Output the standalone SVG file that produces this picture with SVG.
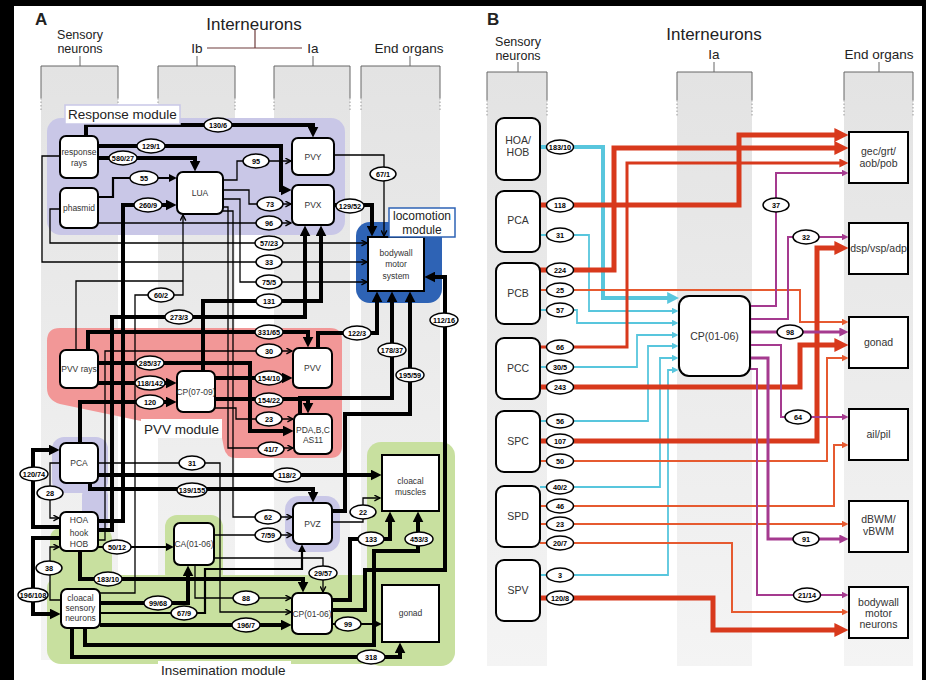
<svg xmlns="http://www.w3.org/2000/svg" width="926" height="680" viewBox="0 0 926 680">
<style>
.tk{fill:none;stroke:#000;stroke-width:4}
.md{fill:none;stroke:#000;stroke-width:2.2}
.tn{fill:none;stroke:#000;stroke-width:1.3}
.nd{fill:#fff;stroke:#000;stroke-width:2}
text{font-family:"Liberation Sans",Arial,Helvetica,sans-serif}
.nt{font-size:8.5px;fill:#333;text-anchor:middle}
.nb{font-size:10.5px;fill:#333;text-anchor:middle}
.lb ellipse{fill:#fff;stroke:#000;stroke-width:1.5}
.lb text{font-size:7.3px;font-weight:bold;text-anchor:middle;fill:#000}
.hd{font-size:13.5px;fill:#222;text-anchor:middle}
.hs{font-size:12.5px;fill:#222;text-anchor:middle}
.ml{font-size:13.5px;fill:#222}
.br{fill:none;stroke:#666;stroke-width:1}
.dt{fill:none;stroke:#999;stroke-width:1;stroke-dasharray:1.5 2}
.cy{fill:none;stroke:#58c6dd}
.rd{fill:none;stroke:#d8391c}
.og{fill:none;stroke:#e65a30;stroke-width:2}
.pu{fill:none;stroke:#a53a8f}
.col{fill:url(#colg)}
.lav{fill:#c9c7e7}
.grn{fill:#c8e09f}
</style>
<defs>
<linearGradient id="colg" x1="0" y1="0" x2="0" y2="1"><stop offset="0" stop-color="#e3e3e3"/><stop offset="1" stop-color="#f4f4f4"/></linearGradient>
<marker id="aK" viewBox="0 0 10 10" refX="4" refY="5" markerWidth="11" markerHeight="11" markerUnits="userSpaceOnUse" orient="auto"><path d="M0,0 L10,5 L0,10 z" fill="#000"/></marker>
<marker id="aM" viewBox="0 0 10 10" refX="4" refY="5" markerWidth="8" markerHeight="8" markerUnits="userSpaceOnUse" orient="auto"><path d="M0,0 L10,5 L0,10 z" fill="#000"/></marker>
<marker id="aT" viewBox="0 0 10 10" refX="9" refY="5" markerWidth="7" markerHeight="7" markerUnits="userSpaceOnUse" orient="auto"><path d="M1,1 L9,5 L1,9" fill="none" stroke="#000" stroke-width="2"/></marker>
<marker id="rK" viewBox="0 0 10 10" refX="4" refY="5" markerWidth="14" markerHeight="14" markerUnits="userSpaceOnUse" orient="auto"><path d="M0,0 L10,5 L0,10 z" fill="#d8391c"/></marker>
<marker id="rS" viewBox="0 0 10 10" refX="4" refY="5" markerWidth="9" markerHeight="9" markerUnits="userSpaceOnUse" orient="auto"><path d="M0,0 L10,5 L0,10 z" fill="#d8391c"/></marker>
<marker id="oS" viewBox="0 0 10 10" refX="5" refY="5" markerWidth="7" markerHeight="7" markerUnits="userSpaceOnUse" orient="auto"><path d="M0,0 L10,5 L0,10 z" fill="#e65a30"/></marker>
<marker id="cK" viewBox="0 0 10 10" refX="4" refY="5" markerWidth="12" markerHeight="12" markerUnits="userSpaceOnUse" orient="auto"><path d="M0,0 L10,5 L0,10 z" fill="#58c6dd"/></marker>
<marker id="cS" viewBox="0 0 10 10" refX="5" refY="5" markerWidth="7" markerHeight="7" markerUnits="userSpaceOnUse" orient="auto"><path d="M0,0 L10,5 L0,10 z" fill="#58c6dd"/></marker>
<marker id="pS" viewBox="0 0 10 10" refX="5" refY="5" markerWidth="7" markerHeight="7" markerUnits="userSpaceOnUse" orient="auto"><path d="M0,0 L10,5 L0,10 z" fill="#a53a8f"/></marker>
<marker id="pM" viewBox="0 0 10 10" refX="4" refY="5" markerWidth="9" markerHeight="9" markerUnits="userSpaceOnUse" orient="auto"><path d="M0,0 L10,5 L0,10 z" fill="#a53a8f"/></marker>
</defs>

<rect width="926" height="680" fill="#000"/>
<rect x="14" y="6" width="908" height="674" fill="#fff"/>

<!-- Panel A background -->
<g id="A-background">
<rect class="col" x="41" y="66" width="77" height="594"/>
<rect class="col" x="158" y="66" width="77" height="594"/>
<rect class="col" x="274" y="66" width="76" height="594"/>
<rect class="col" x="361" y="66" width="79" height="594"/>
<path class="br" d="M41,98 V66 H118 V98 M158,98 V66 H235 V98 M274,98 V66 H350 V98 M361,98 V66 H440 V98 M80,56 V66 M197,56 V66 M313,56 V66 M410,56 V66"/>
<path class="dt" d="M41,98 V112 M118,98 V112 M158,98 V112 M235,98 V112 M274,98 V112 M350,98 V112 M361,98 V112 M440,98 V112"/>
<path d="M207,48 H302 M255,30 V48" fill="none" stroke="#6e3c3c" stroke-width="1.2"/>
<text x="35" y="25" font-size="17" font-weight="bold" fill="#222">A</text>
<text class="hs" x="80" y="39">Sensory</text>
<text class="hs" x="80" y="53">neurons</text>
<text x="254" y="30" font-size="17" fill="#222" text-anchor="middle">Interneurons</text>
<text class="hd" x="197" y="53">Ib</text>
<text class="hd" x="313" y="53">Ia</text>
<text class="hd" x="409" y="53">End organs</text>
</g>

<g id="modules-A">
<rect class="lav" x="47" y="118" width="298" height="117" rx="14"/>
<path fill="#f29797" d="M60,328 H330 Q342,328 342,340 V446 Q342,458 330,458 H236 Q226,458 224,448 L222,438 L60,404 Q47,400 47,388 V341 Q47,328 60,328 Z"/>
<rect x="356" y="222" width="86" height="81" rx="14" fill="#2e63b5"/>
<rect class="grn" x="367" y="442" width="88" height="224" rx="14"/>
<rect class="grn" x="47" y="575" width="408" height="89" rx="14"/>
<rect class="grn" x="165" y="515" width="58" height="70" rx="12"/>
<rect class="grn" x="50" y="528" width="62" height="60" rx="10"/>
<rect class="lav" x="52" y="437" width="56" height="56" rx="12"/>
<rect class="lav" x="82" y="485" width="26" height="48" rx="10"/>
<rect class="lav" x="285" y="496" width="55" height="56" rx="14"/>
</g>

<!-- Panel B background -->
<g id="B-background">
<rect class="col" x="487" y="72" width="60" height="594"/>
<rect class="col" x="677" y="72" width="75" height="594"/>
<rect class="col" x="844" y="72" width="69" height="594"/>
<path class="br" d="M487,100 V72 H547 V100 M677,100 V72 H752 V100 M844,100 V72 H913 V100 M518,62 V72 M714,62 V72 M879,62 V72"/>
<path class="dt" d="M487,100 V116 M547,100 V116 M677,100 V116 M752,100 V116 M844,100 V116 M913,100 V116"/>
<text x="487" y="25" font-size="17" font-weight="bold" fill="#222">B</text>
<text class="hs" x="518" y="46">Sensory</text>
<text class="hs" x="518" y="60">neurons</text>
<text x="714" y="40" font-size="17" fill="#222" text-anchor="middle">Interneurons</text>
<text class="hd" x="714" y="59">Ia</text>
<text class="hd" x="879" y="59">End organs</text>
</g>

<g id="connectors">
<!-- panel A -->
<path class="tk" marker-end="url(#aK)" d="M86,136 V125 H313 V131"/>
<path class="tk" marker-end="url(#aK)" d="M98,146 H281 V190 H285"/>
<path class="tk" marker-end="url(#aK)" d="M98,158 H195 V165"/>
<path class="md" marker-end="url(#aM)" d="M98,197 H113 V178 H172"/>
<path class="tk" marker-end="url(#aK)" d="M98,521 H123 V205 H170"/>
<path class="tn" marker-end="url(#aT)" d="M223,180 H237 V161 H291"/>
<path class="tn" marker-end="url(#aT)" d="M223,190 H249 V204 H291"/>
<path class="tn" marker-end="url(#aT)" d="M98,223 H291"/>
<path class="tn" marker-end="url(#aT)" d="M334,155 H384 V236"/>
<path class="tk" marker-end="url(#aK)" d="M334,205 H372 V230"/>
<path class="tn" marker-end="url(#aT)" d="M60,209 H50 V243 H367"/>
<path class="tn" marker-end="url(#aT)" d="M60,156 H42 V262 H367"/>
<path class="tn" marker-end="url(#aT)" d="M223,199 H240 V282 H367"/>
<path class="tk" marker-end="url(#aK)" d="M203,371 V301 H321 V232"/>
<path class="tk" marker-end="url(#aK)" d="M98,530 H112 V317 H305 V232"/>
<path class="tn" marker-end="url(#aT)" d="M100,593 H135 V295 H183 V215"/>
<path class="tn" d="M76,350 V281 H183"/>
<path class="tk" marker-end="url(#aK)" d="M88,350 V332 H308 V341"/>
<path class="tn" marker-end="url(#aT)" d="M98,540 H105 V351 H292"/>
<path class="tk" marker-end="url(#aK)" d="M98,363 H250 V431 H287"/>
<path class="tk" marker-end="url(#aK)" d="M98,383 H170"/>
<path class="tk" marker-end="url(#aK)" d="M80,443 V402 H170"/>
<path class="tk" marker-end="url(#aK)" d="M215,378 H286"/>
<path class="tk" marker-end="url(#aK)" d="M215,399 H308 V407"/>
<path class="tn" marker-end="url(#aT)" d="M215,408 H236 V419 H293"/>
<path class="tn" marker-end="url(#aT)" d="M223,207 H228 V448 H293"/>
<path class="tk" marker-end="url(#aK)" d="M318,348 V333 H377 V298"/>
<path class="tk" marker-end="url(#aK)" d="M300,414 V398 H392 V298"/>
<path class="tk" marker-end="url(#aK)" d="M332,511 H345 V414 H410 V298"/>
<path class="tk" marker-end="url(#aK)" d="M332,610 H365 V570 H445 V277 H431"/>
<path class="tn" marker-end="url(#aT)" d="M98,463 H220 V612 H291"/>
<path class="tk" marker-end="url(#aK)" d="M98,475 H375"/>
<path class="tk" marker-end="url(#aK)" d="M90,483 V489 H313 V496"/>
<path class="tn" marker-end="url(#aT)" d="M223,211 H233 V517 H292"/>
<path class="tn" marker-end="url(#aT)" d="M214,535 H292"/>
<path class="tn" marker-end="url(#aT)" d="M332,522 H363 V498 H380"/>
<path class="tk" marker-end="url(#aK)" d="M332,600 H350 V539 H390 V518"/>
<path class="tk" marker-end="url(#aK)" d="M85,628 V645 H374 V551 H418 V518"/>
<path class="md" marker-end="url(#aM)" d="M332,624 H377"/>
<path class="tk" marker-end="url(#aK)" d="M72,628 V657 H400 V649"/>
<path class="tk" marker-end="url(#aK)" d="M60,527 H33 V450 H53"/>
<path class="tn" marker-end="url(#aT)" d="M60,463 H50 V518 H59"/>
<path class="tn" marker-end="url(#aT)" d="M61,600 H50 V547 H59"/>
<path class="tk" marker-end="url(#aK)" d="M60,538 H33 V614 H54"/>
<path class="md" marker-end="url(#aM)" d="M98,547 H169"/>
<path class="tk" marker-end="url(#aK)" d="M80,551 V579 H303 V586"/>
<path class="tk" marker-end="url(#aK)" d="M100,603 H188 V572"/>
<path class="md" marker-end="url(#aM)" d="M100,613 H205 V569 H302 V549"/>
<path class="tn" marker-end="url(#aT)" d="M214,558 H323 V592"/>
<path class="tn" marker-end="url(#aT)" d="M195,565 V598 H291"/>
<path class="tk" marker-end="url(#aK)" d="M100,625 H285"/>
<!-- panel B -->
<path class="cy" stroke-width="4" marker-end="url(#cK)" d="M540,147 H603 V298 H672"/>
<path class="cy" stroke-width="1.8" marker-end="url(#cS)" d="M540,235 H589 V311 H675"/>
<path class="cy" stroke-width="1.8" marker-end="url(#cS)" d="M540,310 H577 V323 H675"/>
<path class="cy" stroke-width="1.8" marker-end="url(#cS)" d="M540,367 H637 V335 H675"/>
<path class="cy" stroke-width="1.8" marker-end="url(#cS)" d="M540,421 H648 V346 H675"/>
<path class="cy" stroke-width="1.8" marker-end="url(#cS)" d="M540,487 H660 V358 H675"/>
<path class="cy" stroke-width="1.8" marker-end="url(#cS)" d="M540,575 H668 V370 H675"/>
<path class="og" marker-end="url(#oS)" d="M540,290 H800 V322 H845"/>
<path class="og" marker-end="url(#oS)" d="M540,461 H827 V358 H845"/>
<path class="og" marker-end="url(#oS)" d="M540,506 H834 V445 H845"/>
<path class="og" marker-end="url(#oS)" d="M540,524 H845"/>
<path class="og" marker-end="url(#oS)" d="M540,543 H732 V612 H845"/>
<path class="rd" stroke-width="5" marker-end="url(#rK)" d="M540,205 H739 V135 H840"/>
<path class="rd" stroke-width="5" marker-end="url(#rK)" d="M540,270 H614 V148 H840"/>
<path class="rd" stroke-width="3" marker-end="url(#rS)" d="M540,347 H627 V163 H843"/>
<path class="rd" stroke-width="5" marker-end="url(#rK)" d="M540,387 H800 V345 H840"/>
<path class="rd" stroke-width="5" marker-end="url(#rK)" d="M540,441 H817 V248 H840"/>
<path class="rd" stroke-width="5" marker-end="url(#rK)" d="M540,598 H713 V630 H840"/>
<path class="pu" stroke-width="2" marker-end="url(#pS)" d="M750,306 H776 V173 H845"/>
<path class="pu" stroke-width="2" marker-end="url(#pS)" d="M750,319 H788 V237 H845"/>
<path class="pu" stroke-width="3" marker-end="url(#pM)" d="M750,332 H843"/>
<path class="pu" stroke-width="2" marker-end="url(#pS)" d="M750,345 H781 V417 H845"/>
<path class="pu" stroke-width="3" marker-end="url(#pM)" d="M750,358 H768 V539 H843"/>
<path class="pu" stroke-width="2" marker-end="url(#pS)" d="M750,369 H757 V595 H845"/>
</g>

<!-- Panel A nodes -->
<g id="n-response-rays"><rect class="nd" x="60" y="136" width="38" height="42" rx="6"/><text class="nt" x="79" y="155">response</text><text class="nt" x="79" y="166">rays</text></g>
<g id="n-phasmid"><rect class="nd" x="60" y="188" width="38" height="40" rx="6"/><text class="nt" x="79" y="211">phasmid</text></g>
<g id="n-LUA"><rect class="nd" x="177" y="172" width="46" height="42" rx="6"/><text class="nt" x="200" y="196">LUA</text></g>
<g id="n-PVY"><rect class="nd" x="292" y="138" width="42" height="37" rx="6"/><text class="nt" x="313" y="159.5">PVY</text></g>
<g id="n-PVX"><rect class="nd" x="292" y="185" width="42" height="40" rx="6"/><text class="nt" x="313" y="208">PVX</text></g>
<g id="n-bodywall-motor-system"><rect class="nd" x="368" y="237" width="56" height="54"/><text class="nt" x="396" y="256" font-size="10">bodywall</text><text class="nt" x="396" y="267" font-size="10">motor</text><text class="nt" x="396" y="279" font-size="10">system</text></g>
<g id="n-PVV-rays"><rect class="nd" x="60" y="350" width="38" height="38" rx="6"/><text class="nt" x="79" y="372" font-size="8.2">PVV rays</text></g>
<g id="n-CP07-09"><rect class="nd" x="177" y="371" width="38" height="41" rx="6"/><text class="nt" x="196" y="394.5" font-size="7.6">CP(07-09)</text></g>
<g id="n-PVV"><rect class="nd" x="293" y="348" width="39" height="40" rx="6"/><text class="nt" x="312.5" y="371">PVV</text></g>
<g id="n-PDA"><rect class="nd" x="294" y="414" width="38" height="40" rx="6"/><text class="nt" x="313" y="433">PDA,B,C</text><text class="nt" x="313" y="443">AS11</text></g>
<g id="n-PCA-A"><rect class="nd" x="60" y="443" width="38" height="40" rx="6"/><text class="nt" x="79" y="466">PCA</text></g>
<g id="n-hook"><rect class="nd" x="60" y="512" width="38" height="39" rx="6"/><text class="nt" x="79" y="523" font-size="7">HOA</text><text class="nt" x="79" y="536" font-size="10">hook</text><text class="nt" x="79" y="547" font-size="7">HOB</text></g>
<g id="n-cloacal-sensory"><rect class="nd" x="61" y="589" width="39" height="39" rx="6"/><text class="nt" x="80.5" y="601">cloacal</text><text class="nt" x="80.5" y="611">sensory</text><text class="nt" x="80.5" y="621">neurons</text></g>
<g id="n-CA"><rect class="nd" x="174" y="523" width="40" height="42" rx="6"/><text class="nt" x="194" y="547" font-size="7.6">CA(01-06)</text></g>
<g id="n-PVZ"><rect class="nd" x="293" y="503" width="39" height="41" rx="6"/><text class="nt" x="312.5" y="526.5">PVZ</text></g>
<g id="n-CP01-06-A"><rect class="nd" x="292" y="593" width="40" height="41" rx="6"/><text class="nt" x="312" y="616.5" font-size="7.6">CP(01-06)</text></g>
<g id="n-cloacal-muscles"><rect class="nd" x="382" y="455" width="57" height="56"/><text class="nt" x="410.5" y="484" font-size="10">cloacal</text><text class="nt" x="410.5" y="495" font-size="10">muscles</text></g>
<g id="n-gonad-A"><rect class="nd" x="382" y="585" width="57" height="57"/><text class="nt" x="410.5" y="616" font-size="10">gonad</text></g>

<!-- Panel B nodes -->
<g id="n-HOA-HOB"><rect class="nd" x="496" y="118" width="44" height="62" rx="8"/><text class="nb" x="518" y="144">HOA/</text><text class="nb" x="518" y="156">HOB</text></g>
<g id="n-PCA-B"><rect class="nd" x="496" y="191" width="44" height="61" rx="8"/><text class="nb" x="518" y="224">PCA</text></g>
<g id="n-PCB"><rect class="nd" x="496" y="263" width="44" height="61" rx="8"/><text class="nb" x="518" y="297">PCB</text></g>
<g id="n-PCC"><rect class="nd" x="496" y="338" width="44" height="61" rx="8"/><text class="nb" x="518" y="372">PCC</text></g>
<g id="n-SPC"><rect class="nd" x="496" y="411" width="44" height="61" rx="8"/><text class="nb" x="518" y="445">SPC</text></g>
<g id="n-SPD"><rect class="nd" x="496" y="486" width="44" height="61" rx="8"/><text class="nb" x="518" y="520">SPD</text></g>
<g id="n-SPV"><rect class="nd" x="496" y="560" width="44" height="61" rx="8"/><text class="nb" x="518" y="594">SPV</text></g>
<g id="n-CP01-06-B"><rect class="nd" x="679" y="296" width="71" height="80" rx="10"/><text class="nb" x="714.5" y="340" font-size="10">CP(01-06)</text></g>
<g id="n-gec"><rect class="nd" x="849" y="132" width="59" height="51"/><text class="nb" x="878.5" y="155">gec/grt/</text><text class="nb" x="878.5" y="167">aob/pob</text></g>
<g id="n-dsp"><rect class="nd" x="849" y="223" width="59" height="51"/><text class="nb" x="878.5" y="252">dsp/vsp/adp</text></g>
<g id="n-gonad-B"><rect class="nd" x="849" y="317" width="59" height="51"/><text class="nb" x="878.5" y="346">gonad</text></g>
<g id="n-ail-pil"><rect class="nd" x="849" y="409" width="59" height="51"/><text class="nb" x="878.5" y="438">ail/pil</text></g>
<g id="n-BWM"><rect class="nd" x="849" y="501" width="59" height="51"/><text class="nb" x="878.5" y="523">dBWM/</text><text class="nb" x="878.5" y="535">vBWM</text></g>
<g id="n-bodywall-motor-neurons"><rect class="nd" x="849" y="587" width="59" height="51"/><text class="nb" x="878.5" y="606">bodywall</text><text class="nb" x="878.5" y="617">motor</text><text class="nb" x="878.5" y="628">neurons</text></g>

<!-- Edge labels -->
<g id="labels-A" class="lb">
<g transform="translate(218,125)"><ellipse rx="14" ry="7"/><text y="2.6">130/6</text></g>
<g transform="translate(151,146)"><ellipse rx="14" ry="7"/><text y="2.6">129/1</text></g>
<g transform="translate(123,158)"><ellipse rx="14" ry="7"/><text y="2.6">580/27</text></g>
<g transform="translate(144,178)"><ellipse rx="14" ry="7"/><text y="2.6">55</text></g>
<g transform="translate(148,205)"><ellipse rx="14" ry="7"/><text y="2.6">260/9</text></g>
<g transform="translate(256,161)"><ellipse rx="13" ry="7"/><text y="2.6">95</text></g>
<g transform="translate(270,204)"><ellipse rx="13" ry="7"/><text y="2.6">73</text></g>
<g transform="translate(269,223)"><ellipse rx="13" ry="7"/><text y="2.6">96</text></g>
<g transform="translate(383,174)"><ellipse rx="13" ry="7"/><text y="2.6">67/1</text></g>
<g transform="translate(350,206)"><ellipse rx="14" ry="7"/><text y="2.6">129/52</text></g>
<g transform="translate(269,243)"><ellipse rx="14" ry="7"/><text y="2.6">57/23</text></g>
<g transform="translate(269,262)"><ellipse rx="13" ry="7"/><text y="2.6">33</text></g>
<g transform="translate(269,282)"><ellipse rx="13" ry="7"/><text y="2.6">75/5</text></g>
<g transform="translate(269,301)"><ellipse rx="13" ry="7"/><text y="2.6">131</text></g>
<g transform="translate(161,295)"><ellipse rx="13" ry="7"/><text y="2.6">60/2</text></g>
<g transform="translate(179,317)"><ellipse rx="14" ry="7"/><text y="2.6">273/3</text></g>
<g transform="translate(269,332)"><ellipse rx="14" ry="7"/><text y="2.6">331/65</text></g>
<g transform="translate(269,351)"><ellipse rx="13" ry="7"/><text y="2.6">30</text></g>
<g transform="translate(357,333)"><ellipse rx="14" ry="7"/><text y="2.6">122/3</text></g>
<g transform="translate(392,350)"><ellipse rx="14" ry="7"/><text y="2.6">178/37</text></g>
<g transform="translate(410,375)"><ellipse rx="14" ry="7"/><text y="2.6">195/59</text></g>
<g transform="translate(444,320)"><ellipse rx="14" ry="7"/><text y="2.6">112/16</text></g>
<g transform="translate(150,363)"><ellipse rx="14" ry="7"/><text y="2.6">285/37</text></g>
<g transform="translate(150,383)"><ellipse rx="15" ry="7"/><text y="2.6" font-size="7">118/142</text></g>
<g transform="translate(150,402)"><ellipse rx="14" ry="7"/><text y="2.6">120</text></g>
<g transform="translate(269,378)"><ellipse rx="14" ry="7"/><text y="2.6">154/10</text></g>
<g transform="translate(269,400)"><ellipse rx="14" ry="7"/><text y="2.6">154/22</text></g>
<g transform="translate(269,419)"><ellipse rx="13" ry="7"/><text y="2.6">23</text></g>
<g transform="translate(271,449)"><ellipse rx="13" ry="7"/><text y="2.6">41/7</text></g>
<g transform="translate(192,463)"><ellipse rx="13" ry="7"/><text y="2.6">31</text></g>
<g transform="translate(287,475)"><ellipse rx="14" ry="7"/><text y="2.6">118/2</text></g>
<g transform="translate(192,490)"><ellipse rx="15" ry="7"/><text y="2.6" font-size="7">139/155</text></g>
<g transform="translate(34,474)"><ellipse rx="14" ry="7"/><text y="2.6">120/74</text></g>
<g transform="translate(50,493)"><ellipse rx="13" ry="7"/><text y="2.6">28</text></g>
<g transform="translate(268,517)"><ellipse rx="13" ry="7"/><text y="2.6">62</text></g>
<g transform="translate(268,535)"><ellipse rx="13" ry="7"/><text y="2.6">7/59</text></g>
<g transform="translate(363,512)"><ellipse rx="13" ry="7"/><text y="2.6">22</text></g>
<g transform="translate(371,539)"><ellipse rx="13" ry="7"/><text y="2.6">133</text></g>
<g transform="translate(419,539)"><ellipse rx="14" ry="7"/><text y="2.6">453/3</text></g>
<g transform="translate(117,547)"><ellipse rx="14" ry="7"/><text y="2.6">50/12</text></g>
<g transform="translate(108,579)"><ellipse rx="14" ry="7"/><text y="2.6">183/10</text></g>
<g transform="translate(49,568)"><ellipse rx="13" ry="7"/><text y="2.6">38</text></g>
<g transform="translate(33,595)"><ellipse rx="15" ry="7"/><text y="2.6" font-size="7">196/108</text></g>
<g transform="translate(158,603)"><ellipse rx="14" ry="7"/><text y="2.6">99/68</text></g>
<g transform="translate(184,613)"><ellipse rx="13" ry="7"/><text y="2.6">67/9</text></g>
<g transform="translate(323,573)"><ellipse rx="14" ry="7"/><text y="2.6">29/57</text></g>
<g transform="translate(246,598)"><ellipse rx="13" ry="7"/><text y="2.6">88</text></g>
<g transform="translate(246,625)"><ellipse rx="14" ry="7"/><text y="2.6">196/7</text></g>
<g transform="translate(348,624)"><ellipse rx="13" ry="7"/><text y="2.6">99</text></g>
<g transform="translate(371,657)"><ellipse rx="14" ry="7"/><text y="2.6">318</text></g>
</g>
<g id="labels-B" class="lb">
<g transform="translate(560,147)"><ellipse rx="13.5" ry="7"/><text y="2.6">183/10</text></g>
<g transform="translate(560,205)"><ellipse rx="13.5" ry="7"/><text y="2.6">118</text></g>
<g transform="translate(560,235)"><ellipse rx="13.5" ry="7"/><text y="2.6">31</text></g>
<g transform="translate(560,270)"><ellipse rx="13.5" ry="7"/><text y="2.6">224</text></g>
<g transform="translate(560,290)"><ellipse rx="13.5" ry="7"/><text y="2.6">25</text></g>
<g transform="translate(560,310)"><ellipse rx="13.5" ry="7"/><text y="2.6">57</text></g>
<g transform="translate(560,347)"><ellipse rx="13.5" ry="7"/><text y="2.6">66</text></g>
<g transform="translate(560,367)"><ellipse rx="13.5" ry="7"/><text y="2.6">30/5</text></g>
<g transform="translate(560,387)"><ellipse rx="13.5" ry="7"/><text y="2.6">243</text></g>
<g transform="translate(560,421)"><ellipse rx="13.5" ry="7"/><text y="2.6">56</text></g>
<g transform="translate(560,441)"><ellipse rx="13.5" ry="7"/><text y="2.6">107</text></g>
<g transform="translate(560,461)"><ellipse rx="13.5" ry="7"/><text y="2.6">50</text></g>
<g transform="translate(560,487)"><ellipse rx="13.5" ry="7"/><text y="2.6">40/2</text></g>
<g transform="translate(560,506)"><ellipse rx="13.5" ry="7"/><text y="2.6">46</text></g>
<g transform="translate(560,524)"><ellipse rx="13.5" ry="7"/><text y="2.6">23</text></g>
<g transform="translate(560,543)"><ellipse rx="13.5" ry="7"/><text y="2.6">20/7</text></g>
<g transform="translate(560,575)"><ellipse rx="13.5" ry="7"/><text y="2.6">3</text></g>
<g transform="translate(560,598)"><ellipse rx="13.5" ry="7"/><text y="2.6">120/8</text></g>
<g transform="translate(776,205)"><ellipse rx="13" ry="7"/><text y="2.6">37</text></g>
<g transform="translate(806,237)"><ellipse rx="13" ry="7"/><text y="2.6">32</text></g>
<g transform="translate(790,332)"><ellipse rx="13" ry="7"/><text y="2.6">98</text></g>
<g transform="translate(798,417)"><ellipse rx="13" ry="7"/><text y="2.6">64</text></g>
<g transform="translate(806,539)"><ellipse rx="13" ry="7"/><text y="2.6">91</text></g>
<g transform="translate(807,595)"><ellipse rx="13.5" ry="7"/><text y="2.6">21/14</text></g>
</g>

<!-- Module labels -->
<g id="module-labels">
<rect x="65" y="105" width="115" height="19" fill="#fff" stroke="#c9c7e7" stroke-width="1.5"/>
<text class="ml" x="68" y="119">Response module</text>
<rect x="141" y="419" width="81" height="19" fill="#fff"/>
<text class="ml" x="144" y="434">PVV module</text>
<rect x="389" y="208" width="66" height="29" fill="#fff" stroke="#2e63b5" stroke-width="1.5"/>
<text x="422" y="220" font-size="12" fill="#222" text-anchor="middle">locomotion</text>
<text x="422" y="233.5" font-size="12" fill="#222" text-anchor="middle">module</text>
<rect x="158" y="661" width="133" height="19" fill="#fff"/>
<text class="ml" x="161" y="675">Insemination module</text>
</g>
</svg>
